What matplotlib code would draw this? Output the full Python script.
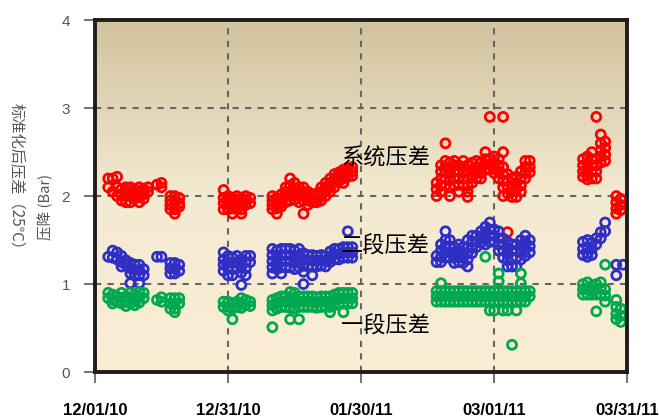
import numpy as np
import matplotlib
matplotlib.use("Agg")
import matplotlib.pyplot as plt
from matplotlib.colors import LinearSegmentedColormap
from matplotlib.transforms import ScaledTranslation

plt.rcParams['font.family'] = ['Noto Sans CJK SC', 'DejaVu Sans']

# day offset from 12/01/10 -> readings of that day (bar)
sys_dp = {
    3: [2.2, 2.1], 4: [2.2, 2.05], 5: [2.22, 2.1, 2.0], 6: [2.08, 2.02, 1.95],
    7: [2.1, 2.05, 2.0, 1.93], 8: [2.1, 2.05, 2.0, 1.93], 9: [2.08, 2.02, 1.97], 10: [2.1, 2.05, 2.0, 1.93],
    11: [2.08, 2.02, 1.97], 12: [2.1, 2.05], 14: [2.13], 15: [2.15, 2.1],
    17: [2.0, 1.95, 1.9, 1.85], 18: [2.0, 1.95, 1.9, 1.85, 1.8], 19: [1.98, 1.92, 1.88],
    29: [2.07, 1.98, 1.92, 1.85], 30: [2.0, 1.95, 1.9, 1.85], 31: [1.98, 1.92, 1.86, 1.8],
    32: [2.0, 1.95, 1.9, 1.85], 33: [1.98, 1.92, 1.85, 1.8], 34: [2.0, 1.95, 1.9], 35: [1.98, 1.92],
    40: [2.0, 1.95, 1.9, 1.85], 41: [1.98, 1.92, 1.86, 1.8], 42: [2.02, 1.97, 1.92, 1.88],
    43: [2.1, 2.05, 2.0, 1.93], 44: [2.2, 2.12, 2.05, 2.0, 1.95], 45: [2.15, 2.08, 2.02, 1.96],
    46: [2.1, 2.05, 2.0, 1.93], 47: [2.1, 2.05, 2.0, 1.95, 1.8], 48: [2.05, 2.0, 1.95, 1.9],
    49: [2.02, 1.97, 1.93], 50: [2.03, 1.98, 1.93], 51: [2.1, 2.05, 2.0, 1.95],
    52: [2.15, 2.1, 2.05, 2.0], 53: [2.2, 2.15, 2.1, 2.05], 54: [2.25, 2.2, 2.15, 2.1],
    55: [2.27, 2.22, 2.17], 56: [2.3, 2.25, 2.2, 2.15], 57: [2.32, 2.27, 2.22], 58: [2.33, 2.28, 2.23],
    77: [2.15, 2.08, 2.0], 78: [2.35, 2.28, 2.2, 2.12, 2.05], 79: [2.6, 2.4, 2.33, 2.27, 2.2, 2.12],
    80: [2.38, 2.32, 2.25, 2.18, 2.1, 2.0], 81: [2.4, 2.35, 2.28, 2.2, 2.12],
    82: [2.35, 2.28, 2.2, 2.13, 2.05], 83: [2.4, 2.33, 2.26, 2.2, 2.12],
    84: [2.35, 2.28, 2.2, 2.12, 2.05, 1.99], 85: [2.38, 2.3, 2.23, 2.15], 86: [2.4, 2.33, 2.27, 2.2],
    87: [2.38, 2.32, 2.26, 2.2], 88: [2.5, 2.42, 2.36, 2.3], 89: [2.9, 2.42, 2.36, 2.3],
    90: [2.45, 2.38, 2.32, 2.26], 91: [2.42, 2.35, 2.28, 2.2],
    92: [2.9, 2.5, 2.33, 2.25, 2.17, 2.1, 2.0], 93: [2.25, 2.18, 2.1, 2.03, 1.59],
    94: [2.2, 2.12, 2.05, 1.99], 95: [2.22, 2.15, 2.08, 1.99], 96: [2.28, 2.2, 2.12, 2.05],
    97: [2.4, 2.33, 2.26, 2.2], 98: [2.4, 2.33, 2.27],
    110: [2.42, 2.35, 2.28, 2.22], 111: [2.45, 2.38, 2.3, 2.24, 2.19], 112: [2.5, 2.42, 2.35, 2.28, 2.2],
    113: [2.9, 2.42, 2.35, 2.28, 2.2], 114: [2.7, 2.6, 2.52, 2.45, 2.38], 115: [2.62, 2.55, 2.47, 2.4],
    117.5: [2.0, 1.93, 1.86, 1.8], 118.5: [1.97, 1.9, 1.84],
}
stage2_dp = {
    3: [1.31], 4: [1.38, 1.3], 5: [1.36, 1.28], 6: [1.32, 1.25, 1.2], 7: [1.27, 1.22],
    8: [1.24, 1.18, 1.12, 1.01], 9: [1.22, 1.16, 1.1], 10: [1.22, 1.16, 1.1, 1.01], 11: [1.17, 1.1],
    14: [1.31], 15: [1.31], 17: [1.24, 1.18, 1.12], 18: [1.24, 1.18, 1.12], 19: [1.22, 1.15],
    29: [1.36, 1.28, 1.22, 1.15], 30: [1.32, 1.25, 1.18, 1.1], 31: [1.3, 1.24, 1.17, 1.1],
    32: [1.32, 1.25, 1.18], 33: [1.28, 1.2, 1.13, 0.99], 34: [1.32, 1.25, 1.18, 1.1], 35: [1.32, 1.25],
    40: [1.4, 1.33, 1.26, 1.19, 1.12], 41: [1.38, 1.31, 1.24, 1.17], 42: [1.4, 1.33, 1.26, 1.19, 1.12],
    43: [1.4, 1.33, 1.26, 1.19], 44: [1.4, 1.33, 1.26, 1.19], 45: [1.38, 1.31, 1.24, 1.17],
    46: [1.4, 1.33, 1.26, 1.19], 47: [1.35, 1.28, 1.21, 1.14, 1.0], 48: [1.33, 1.27, 1.2],
    49: [1.33, 1.27, 1.2, 1.1], 50: [1.32, 1.26, 1.2], 51: [1.33, 1.27, 1.21], 52: [1.32, 1.26, 1.2],
    53: [1.37, 1.31, 1.25], 54: [1.4, 1.34, 1.28], 55: [1.4, 1.34, 1.28], 56: [1.42, 1.36, 1.3],
    57: [1.6, 1.42, 1.36, 1.3], 58: [1.42, 1.36, 1.3],
    77: [1.32, 1.25], 78: [1.45, 1.38, 1.31, 1.25], 79: [1.6, 1.5, 1.43, 1.36, 1.3],
    80: [1.5, 1.43, 1.36, 1.3], 81: [1.42, 1.36, 1.3, 1.24], 82: [1.45, 1.38, 1.32, 1.25],
    83: [1.42, 1.36, 1.3, 1.24], 84: [1.5, 1.42, 1.35, 1.28, 1.2], 85: [1.55, 1.48, 1.41, 1.35],
    86: [1.55, 1.48, 1.42], 87: [1.6, 1.53, 1.47], 88: [1.65, 1.58, 1.51, 1.45],
    89: [1.7, 1.62, 1.55, 1.48], 90: [1.62, 1.55, 1.48], 91: [1.6, 1.52, 1.45, 1.38],
    92: [1.52, 1.45, 1.38, 1.3], 93: [1.48, 1.41, 1.34, 1.27, 1.2], 94: [1.45, 1.38, 1.3, 1.2],
    95: [1.45, 1.38, 1.3, 1.2], 96: [1.5, 1.43, 1.36, 1.28], 97: [1.55, 1.48, 1.4, 1.32],
    98: [1.5, 1.43, 1.36],
    110: [1.48, 1.4, 1.33], 111: [1.5, 1.42, 1.35, 1.31], 112: [1.47, 1.4, 1.33], 113: [1.52, 1.45],
    114: [1.59, 1.52], 115: [1.7, 1.6], 117.5: [1.22, 1.1], 119: [1.22],
}
stage1_dp = {
    3: [0.9, 0.84], 4: [0.88, 0.82, 0.78], 5: [0.86, 0.8], 6: [0.9, 0.84, 0.78], 7: [0.86, 0.8, 0.75],
    8: [0.9, 0.84, 0.78], 9: [0.88, 0.82, 0.76], 10: [0.91, 0.85, 0.79], 11: [0.9, 0.84],
    14: [0.82], 15: [0.85, 0.8], 17: [0.84, 0.78, 0.72], 18: [0.84, 0.78, 0.72, 0.68], 19: [0.84, 0.78],
    29: [0.8, 0.74], 30: [0.8, 0.74, 0.7], 31: [0.78, 0.72, 0.6], 32: [0.8, 0.74], 33: [0.84, 0.78, 0.73],
    34: [0.82, 0.76], 35: [0.8, 0.75],
    40: [0.82, 0.76, 0.7, 0.51], 41: [0.84, 0.78, 0.72], 42: [0.86, 0.8, 0.74], 43: [0.86, 0.8, 0.74],
    44: [0.91, 0.85, 0.79, 0.73, 0.6], 45: [0.9, 0.84, 0.78, 0.72], 46: [0.86, 0.8, 0.74, 0.6],
    47: [0.86, 0.8, 0.74], 48: [0.86, 0.8, 0.74], 49: [0.86, 0.8, 0.74], 50: [0.85, 0.79, 0.73],
    51: [0.86, 0.8, 0.74], 52: [0.86, 0.8, 0.74], 53: [0.86, 0.8, 0.74, 0.68], 54: [0.88, 0.82, 0.76],
    55: [0.9, 0.84, 0.78], 56: [0.9, 0.84, 0.78, 0.68], 57: [0.9, 0.84, 0.78], 58: [0.9, 0.84, 0.78],
    77: [0.92, 0.86, 0.8], 78: [1.01, 0.92, 0.86, 0.8], 79: [0.92, 0.86, 0.8], 80: [0.92, 0.86, 0.8],
    81: [0.92, 0.86, 0.8], 82: [0.92, 0.86, 0.8], 83: [0.92, 0.86, 0.8], 84: [0.92, 0.86, 0.8],
    85: [0.92, 0.86, 0.8], 86: [0.92, 0.86, 0.8], 87: [0.92, 0.86, 0.8], 88: [1.31, 0.92, 0.86, 0.8],
    89: [0.92, 0.86, 0.8, 0.7], 90: [0.92, 0.86, 0.8, 0.7], 91: [1.12, 1.03, 0.92, 0.86, 0.8],
    92: [0.92, 0.86, 0.8, 0.7], 93: [0.92, 0.86, 0.8, 0.7], 94: [0.92, 0.86, 0.8, 0.31],
    95: [0.92, 0.86, 0.8, 0.7], 96: [1.12, 1.01, 0.92, 0.86, 0.8], 97: [0.92, 0.86, 0.8],
    98: [0.92, 0.86],
    110: [1.0, 0.94, 0.88], 111: [1.02, 0.95, 0.88], 112: [0.98, 0.92, 0.88],
    113: [1.0, 0.94, 0.88, 0.69], 114: [1.02, 0.95, 0.88], 115: [1.22, 0.94, 0.87, 0.8],
    117.5: [0.82, 0.74, 0.66, 0.6], 118.5: [0.72, 0.64, 0.57],
}

tick_days = [0, 30, 60, 90, 120]
tick_labels = ['12/01/10', '12/31/10', '01/30/11', '03/01/11', '03/31/11']


def flatten(d):
    xs, ys = [], []
    for day, vals in d.items():
        for v in vals:
            xs.append(day)
            ys.append(v)
    return xs, ys


fig = plt.figure(figsize=(6.59, 4.19), dpi=100)
ax = fig.add_axes([0.144, 0.112, 0.808, 0.840])

# beige gradient background
grad = np.linspace(0, 1, 256).reshape(-1, 1)
bg = LinearSegmentedColormap.from_list('bg', ['#fcedd5', '#f3ead2', '#d2c29d'])
ax.imshow(grad, cmap=bg, aspect='auto', extent=[0, 120, 0, 4], origin='lower', zorder=0)

series = [(sys_dp, '#ff0000'), (stage2_dp, '#2f2fc6'), (stage1_dp, '#00a84f')]
for d, c in series:
    xs, ys = flatten(d)
    ax.scatter(xs, ys, s=42, facecolors='none', edgecolors=c, linewidths=2.0, zorder=3)

ax.set_xlim(0, 120)
ax.set_ylim(0, 4)
ax.set_xticks(tick_days)
ax.set_xticklabels(tick_labels, fontsize=12, fontweight='bold', family='Liberation Sans')
# pull the last date a little left so it stays inside the figure
last = ax.get_xticklabels()[-1]
last.set_transform(last.get_transform() + ScaledTranslation(-0.09, 0, fig.dpi_scale_trans))
ax.set_yticks([0, 1, 2, 3, 4])
ax.set_yticklabels(['0', '1', '2', '3', '4'], fontsize=11, color='#555555', family='Liberation Sans')
ax.tick_params(axis='both', direction='out', length=8, width=1.5, color='#777777')
ax.tick_params(axis='x', pad=14)
ax.tick_params(axis='y', pad=10)
ax.grid(True, color='#666666', linestyle=(0, (3, 3)), linewidth=1.5, zorder=1)
ax.set_axisbelow(True)
for sp in ax.spines.values():
    sp.set_linewidth(2.8)
    sp.set_color('#1e1e1e')
    sp.set_zorder(5)

ax.text(55.5, 2.43, '系统压差', fontsize=16, color='black', va='center', zorder=6)
ax.text(55.5, 1.43, '二段压差', fontsize=16, color='black', va='center', zorder=6)
ax.text(55.5, 0.52, '一段压差', fontsize=16, color='black', va='center', zorder=6)

fig.text(0.026, 0.57, '标准化后压差（25℃）', rotation=270, fontsize=11, color='#555555',
         ha='center', va='center')
fig.text(0.069, 0.505, '压降 (Bar)', rotation=90, fontsize=10.5, color='#555555',
         ha='center', va='center')

fig.savefig('out.png', dpi=100)
